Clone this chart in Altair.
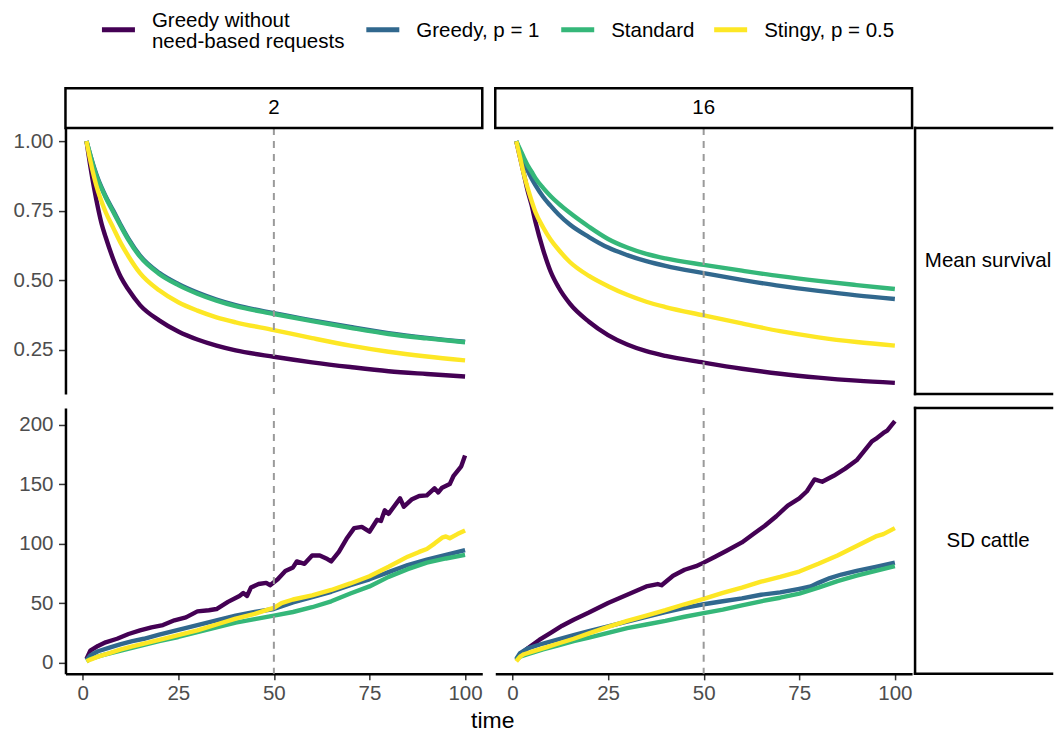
import altair as alt
import pandas as pd

FONT = "Liberation Sans"

series_names = ["Greedy without need-based requests", "Greedy, p = 1", "Standard", "Stingy, p = 0.5"]
series_colors = ["#440154", "#31688E", "#35B779", "#FDE725"]
legend_lines = [["Greedy without", "need-based requests"], ["Greedy, p = 1"], ["Standard"], ["Stingy, p = 0.5"]]
column_labels = ["2", "16"]
row_labels = ["Mean survival", "SD cattle"]
x_ticks = [0, 25, 50, 75, 100]
surv_ticks = [0.25, 0.5, 0.75, 1.0]
sd_ticks = [0, 50, 100, 150, 200]
cutoff_time = [50]

# ---- Mean survival (shared time grid) ----
surv_time = [1, 2, 3, 4, 5, 6, 8, 10, 12, 15, 20, 25, 30, 35, 40, 50, 60, 70, 80, 90, 100]
surv2_greedy_without = [1.0, 0.91, 0.83, 0.76, 0.70, 0.655, 0.575, 0.51, 0.465, 0.41, 0.355, 0.315, 0.286, 0.264, 0.247, 0.224, 0.204, 0.187, 0.172, 0.162, 0.153]
surv2_greedy = [1.0, 0.95, 0.905, 0.865, 0.832, 0.802, 0.75, 0.697, 0.648, 0.588, 0.526, 0.486, 0.455, 0.43, 0.41, 0.381, 0.355, 0.331, 0.309, 0.292, 0.278]
surv2_standard = [1.0, 0.95, 0.90, 0.86, 0.828, 0.798, 0.745, 0.693, 0.644, 0.584, 0.522, 0.482, 0.451, 0.426, 0.406, 0.378, 0.352, 0.328, 0.306, 0.29, 0.276]
surv2_stingy = [1.0, 0.93, 0.87, 0.82, 0.78, 0.745, 0.688, 0.632, 0.585, 0.525, 0.463, 0.42, 0.39, 0.366, 0.348, 0.32, 0.291, 0.264, 0.242, 0.225, 0.211]

surv16_greedy_without = [1.0, 0.94, 0.88, 0.82, 0.77, 0.71, 0.61, 0.53, 0.475, 0.415, 0.35, 0.302, 0.268, 0.244, 0.227, 0.203, 0.181, 0.163, 0.149, 0.138, 0.130]
surv16_greedy = [1.0, 0.96, 0.925, 0.893, 0.866, 0.842, 0.80, 0.767, 0.737, 0.70, 0.655, 0.617, 0.59, 0.568, 0.551, 0.525, 0.501, 0.479, 0.461, 0.445, 0.432]
surv16_standard = [1.0, 0.97, 0.94, 0.912, 0.89, 0.867, 0.832, 0.802, 0.776, 0.742, 0.692, 0.648, 0.617, 0.594, 0.578, 0.555, 0.534, 0.514, 0.497, 0.482, 0.468]
surv16_stingy = [1.0, 0.94, 0.88, 0.83, 0.785, 0.745, 0.69, 0.645, 0.61, 0.565, 0.515, 0.478, 0.447, 0.422, 0.403, 0.373, 0.344, 0.316, 0.294, 0.277, 0.264]

# ---- SD cattle, group size 2 ----
sd2_greedy_without_t = [1, 2, 4, 6, 9, 12, 15, 18, 21, 24, 27, 30, 33, 35, 38, 41, 42, 43, 44, 46, 48, 49, 51, 53, 55, 56, 58, 60, 62, 64, 65, 67, 69, 71, 73, 75, 77, 78, 79, 80, 83, 84, 86, 88, 90, 92, 93, 94, 96, 97, 98, 99, 100]
sd2_greedy_without_v = [3, 10, 14, 17, 20, 24, 27, 29.5, 31.5, 35.5, 38, 43, 44, 45, 51, 56, 58.5, 56, 63, 66, 67, 65, 70, 77, 80, 85, 83, 90, 90, 87, 85, 93, 104, 113, 114, 110, 120, 119, 128, 125, 138, 131, 137, 140, 140.5, 146.5, 143, 147, 150, 157, 161, 165, 174]
sd2_greedy_t = [1, 2, 4, 7, 10, 13, 16, 20, 25, 30, 35, 40, 45, 50, 55, 60, 65, 70, 75, 80, 85, 90, 95, 100]
sd2_greedy_v = [2, 6, 9.5, 12.5, 15.5, 18, 20, 23.5, 27.5, 31.5, 35.5, 39.5, 42.5, 45, 50.5, 55, 59.5, 65, 70, 76, 82, 86.5, 90.5, 94.5]
sd2_standard_t = [1, 2, 5, 10, 15, 20, 25, 30, 35, 40, 45, 50, 55, 60, 65, 70, 75, 80, 85, 90, 95, 100]
sd2_standard_v = [1, 3, 6, 10, 14, 18, 21.5, 25.5, 29.5, 33.5, 36.5, 39.5, 42.5, 46.5, 51.5, 58, 64, 72, 78.5, 84, 87.5, 90.5]
sd2_stingy_t = [1, 2, 4, 7, 10, 13, 16, 20, 25, 30, 35, 40, 45, 48, 50, 52, 55, 60, 65, 70, 75, 80, 85, 88, 90, 92, 94, 95, 96, 98, 100]
sd2_stingy_v = [1, 2.5, 5, 8, 11, 13.5, 16, 19, 23, 27, 32, 37, 41, 44, 46, 50, 53, 56.5, 61, 66.5, 72.5, 80.5, 89, 93, 95.5, 100, 105, 106, 104.5, 108, 111]

# ---- SD cattle, group size 16 ----
sd16_greedy_without_t = [1, 2, 4, 7, 10, 13, 16, 20, 25, 30, 35, 38, 39, 42, 45, 48, 50, 53, 56, 60, 63, 66, 69, 72, 75, 77, 79, 81, 84, 87, 90, 92, 94, 95, 97, 98, 100]
sd16_greedy_without_v = [2, 7, 12, 19, 25, 31, 36, 42, 50, 57, 64, 66, 65, 73, 78, 81, 84, 89, 94, 101, 108, 115, 123, 132, 138, 144, 154, 152, 157, 163, 170, 178, 186, 188, 193, 195, 203]
sd16_greedy_t = [1, 2, 4, 8, 12, 16, 20, 25, 30, 35, 40, 45, 50, 55, 60, 65, 70, 75, 78, 80, 83, 86, 90, 95, 100]
sd16_greedy_v = [3, 8, 12, 16, 19.5, 23, 26.5, 30.5, 34.5, 38.5, 42.5, 46, 49, 51.5, 54, 57, 59, 62, 64, 67, 71, 74, 77, 80.5, 84]
sd16_standard_t = [1, 2, 4, 8, 12, 16, 20, 25, 30, 35, 40, 45, 50, 55, 60, 65, 70, 75, 80, 85, 90, 95, 100]
sd16_standard_v = [2, 5, 7, 11, 14.5, 18, 21, 25, 29, 32, 35, 38.5, 41.5, 44.5, 48, 51.5, 54.5, 58, 63, 68.5, 73, 77, 81]
sd16_stingy_t = [1, 2, 3, 6, 9, 12, 16, 20, 25, 30, 35, 40, 45, 50, 55, 60, 65, 70, 75, 80, 85, 90, 95, 97, 100]
sd16_stingy_v = [1, 5, 7, 10, 13, 16, 20, 24.5, 30, 35, 39.5, 44, 49, 53.5, 58.5, 63, 68, 72, 76.5, 83, 90, 98, 106, 108, 113]


def frame(parts):
    rows = []
    for name, ts, vs in parts:
        for t, v in zip(ts, vs):
            rows.append({"series": name, "time": t, "value": v})
    return pd.DataFrame(rows)


df_s2 = frame([(series_names[0], surv_time, surv2_greedy_without), (series_names[1], surv_time, surv2_greedy),
               (series_names[2], surv_time, surv2_standard), (series_names[3], surv_time, surv2_stingy)])
df_s16 = frame([(series_names[0], surv_time, surv16_greedy_without), (series_names[1], surv_time, surv16_greedy),
                (series_names[2], surv_time, surv16_standard), (series_names[3], surv_time, surv16_stingy)])
df_d2 = frame([(series_names[0], sd2_greedy_without_t, sd2_greedy_without_v), (series_names[1], sd2_greedy_t, sd2_greedy_v),
               (series_names[2], sd2_standard_t, sd2_standard_v), (series_names[3], sd2_stingy_t, sd2_stingy_v)])
df_d16 = frame([(series_names[0], sd16_greedy_without_t, sd16_greedy_without_v), (series_names[1], sd16_greedy_t, sd16_greedy_v),
                (series_names[2], sd16_standard_t, sd16_standard_v), (series_names[3], sd16_stingy_t, sd16_stingy_v)])

# ---- layout (pixels) ----
W, H = 417, 266
XDOM = [-4.5, 104.5]
YDOMS = [[0.09, 1.047], [-9.5, 214]]
YTICKS = [surv_ticks, sd_ticks]
YFMT = [".2f", "d"]
STRIP_FS = 20.5
TICK_FS = 20.5
LEG_FS = 20.5
LINE_W = 4.4
# legend layout, relative to the top-left panel's origin
LEG_SYM_X = [36.5, 301, 496, 649]
LEG_SYM_LEN = 33
LEG_LAB_GAP = 17
LEG_SYM_Y = -98.3
LEG_ONE_LINE_Y = -91
LEG_TWO_LINE_Y = [-101.6, -80]

color_scale = alt.Scale(domain=series_names, range=series_colors)
one = pd.DataFrame({"k": [0]})


def axis_style(**kw):
    return alt.Axis(labelFontSize=TICK_FS, labelColor="#4D4D4D", labelFont=FONT, tickColor="#333333",
                    tickWidth=1.5, domainColor="black", domainWidth=2.5,
                    grid=False, labelFlush=False, **kw)


def legend_layers():
    out = []
    for i, name in enumerate(series_names):
        d = pd.DataFrame({"series": [name]})
        sx = LEG_SYM_X[i]
        out.append(alt.Chart(d).mark_rule(strokeWidth=5).encode(
            x=alt.value(sx), x2=alt.value(sx + LEG_SYM_LEN), y=alt.value(LEG_SYM_Y),
            color=alt.Color("series:N", scale=color_scale, legend=None)))
        lines = legend_lines[i]
        ys = [LEG_ONE_LINE_Y] if len(lines) == 1 else LEG_TWO_LINE_Y
        for txt, yy in zip(lines, ys):
            out.append(alt.Chart(pd.DataFrame({"t": [txt]})).mark_text(
                fontSize=LEG_FS, font=FONT, color="black", align="left", baseline="alphabetic"
            ).encode(x=alt.value(sx + LEG_SYM_LEN + LEG_LAB_GAP), y=alt.value(yy), text="t:N"))
    return out


def panel(df, ci, ri):
    parts = []
    if ri == 1:
        if ci == 0:
            xaxis = axis_style(values=x_ticks, tickSize=6, labelPadding=4, title="time", titleFontSize=23,
                               titleFont=FONT, titleColor="black", titleFontWeight="normal",
                               titleX=427, titleY=54, titleBaseline="alphabetic", titleAlign="center")
        else:
            xaxis = axis_style(values=x_ticks, tickSize=6, labelPadding=4, title=None)
    else:
        xaxis = None
    if ci == 0:
        yaxis = axis_style(values=YTICKS[ri], format=YFMT[ri], tickSize=7, labelPadding=5.5, title=None)
    else:
        yaxis = None
    lines = alt.Chart(df).mark_line(
        strokeWidth=LINE_W, interpolate="monotone" if ri == 0 else "linear", strokeJoin="round"
    ).encode(
        x=alt.X("time:Q", scale=alt.Scale(domain=XDOM, nice=False, zero=False), axis=xaxis),
        y=alt.Y("value:Q", scale=alt.Scale(domain=YDOMS[ri], nice=False, zero=False), axis=yaxis),
        color=alt.Color("series:N", scale=color_scale, legend=None),
    )
    parts.append(lines)
    vline = alt.Chart(pd.DataFrame({"time": cutoff_time})).mark_rule(
        color="#9A9A9A", strokeWidth=2, strokeDash=[7, 6]
    ).encode(x="time:Q")
    parts.append(vline)
    if ri == 0:
        sdf = pd.DataFrame({"label": [column_labels[ci]]})
        parts.append(alt.Chart(sdf).mark_rect(fill="white", stroke="black", strokeWidth=2.5).encode(
            x=alt.value(0), x2=alt.value(W), y=alt.value(-40), y2=alt.value(0)))
        parts.append(alt.Chart(sdf).mark_text(fontSize=STRIP_FS, font=FONT, color="black").encode(
            x=alt.value(W / 2), y=alt.value(-20), text="label:N"))
    if ci == 1:
        rdf = pd.DataFrame({"label": [row_labels[ri]]})
        x0, x1 = 420, 557
        parts.append(alt.Chart(one).mark_rule(color="black", strokeWidth=2.5, strokeCap="square").encode(
            x=alt.value(x0), x2=alt.value(x1), y=alt.value(0)))
        parts.append(alt.Chart(one).mark_rule(color="black", strokeWidth=2.5, strokeCap="square").encode(
            x=alt.value(x0), x2=alt.value(x1), y=alt.value(H)))
        parts.append(alt.Chart(one).mark_rule(color="black", strokeWidth=2.5, strokeCap="square").encode(
            x=alt.value(x0), y=alt.value(0), y2=alt.value(H)))
        parts.append(alt.Chart(rdf).mark_text(fontSize=STRIP_FS, font=FONT, color="black").encode(
            x=alt.value(493), y=alt.value(H / 2), text="label:N"))
    if ci == 0 and ri == 0:
        parts.extend(legend_layers())
    return alt.layer(*parts).properties(width=W, height=H)


p11 = panel(df_s2, 0, 0)
p12 = panel(df_s16, 1, 0)
p21 = panel(df_d2, 0, 1)
p22 = panel(df_d16, 1, 1)

chart = alt.concat(
    p11, p12, p21, p22, columns=2, spacing={"row": 14, "column": 13}, align="each", bounds="flush"
).resolve_scale(
    y="independent", x="independent", color="shared"
).properties(
    padding={"left": 12.5, "top": 10, "right": 0, "bottom": 0}
).configure(
    font=FONT
).configure_view(
    strokeWidth=0
)

chart.save("out.html", embed_options={"renderer": "svg", "actions": False})
